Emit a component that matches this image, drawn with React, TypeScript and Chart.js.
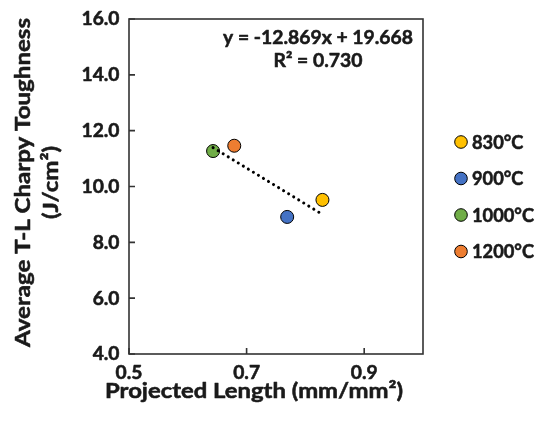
import React, { useEffect, useRef } from "react";
import { Chart, registerables } from "chart.js";

Chart.register(...registerables);

// ---- data ----
const temperatures = ["830°C", "900°C", "1000°C", "1200°C"];
const projectedLength = [0.829, 0.769, 0.643, 0.679];
const toughness = [9.52, 8.91, 11.27, 11.46];
const markerColors = ["#FFC000", "#4472C4", "#70AD47", "#ED7D31"];
const trendSlope = -12.869;
const trendIntercept = 19.668;
const rSquared = 0.73;
const xTickValues = [0.5, 0.7, 0.9];
const yTickValues = [4, 6, 8, 10, 12, 14, 16];
const xTitle = "Projected Length (mm/mm²)";
const yTitleLines = ["Average T-L Charpy Toughness", "(J/cm²)"];
const equationText = `y = ${trendSlope.toFixed(3)}x + ${trendIntercept.toFixed(3)}`;
const r2Text = `R² = ${rSquared.toFixed(3)}`;

const FONT = "Lato, 'Open Sans', sans-serif";
const CAP = 0.7165;
const TEXT = "#1a1a1a";

function setFont(ctx: CanvasRenderingContext2D, cap: number) {
  ctx.font = `bold ${cap / CAP}px ${FONT}`;
}
function squeeze(ctx: CanvasRenderingContext2D, sample: string, width: number) {
  return width / ctx.measureText(sample).width;
}
function drawText(ctx: CanvasRenderingContext2D, text: string, x: number, y: number, sx: number, align: CanvasTextAlign) {
  ctx.save();
  ctx.translate(x, y);
  ctx.scale(sx, 1);
  ctx.textAlign = align;
  ctx.textBaseline = "alphabetic";
  ctx.strokeStyle = TEXT;
  ctx.lineWidth = 0.55;
  ctx.lineJoin = "round";
  ctx.fillText(text, 0, 0);
  ctx.strokeText(text, 0, 0);
  ctx.restore();
}

const overlay = {
  id: "overlay",
  afterDatasetsDraw(chart: any) {
    const { ctx, chartArea } = chart;
    const xs = chart.scales.x;
    const ys = chart.scales.y;
    ctx.save();
    ctx.strokeStyle = "#333333";
    ctx.lineWidth = 1.6;
    ctx.strokeRect(chartArea.left, chartArea.top, chartArea.right - chartArea.left, chartArea.bottom - chartArea.top);
    ctx.beginPath();
    yTickValues.forEach((v) => {
      const y = ys.getPixelForValue(v);
      ctx.moveTo(chartArea.left, y);
      ctx.lineTo(chartArea.left + 6, y);
    });
    xTickValues.forEach((v) => {
      const x = xs.getPixelForValue(v);
      ctx.moveTo(x, chartArea.bottom);
      ctx.lineTo(x, chartArea.bottom - 6);
    });
    ctx.stroke();
    ctx.restore();
  },
  afterDraw(chart: any) {
    const { ctx, chartArea } = chart;
    const xs = chart.scales.x;
    const ys = chart.scales.y;
    ctx.save();
    ctx.fillStyle = TEXT;

    // tick labels
    const tickCap = 12.9;
    setFont(ctx, tickCap);
    const tsx = squeeze(ctx, "16.0", 38);
    yTickValues.forEach((v) => {
      drawText(ctx, v.toFixed(1), chartArea.left - 9.5, ys.getPixelForValue(v) + tickCap / 2, tsx, "right");
    });
    xTickValues.forEach((v) => {
      drawText(ctx, v.toFixed(1), xs.getPixelForValue(v), chartArea.bottom + 19 + tickCap / 2, tsx, "center");
    });

    // x title
    const titleCap = 15.5;
    setFont(ctx, titleCap);
    drawText(ctx, xTitle, 254, 398, squeeze(ctx, xTitle, 298), "center");

    // y title (rotated)
    ctx.save();
    ctx.translate(0, 182.5);
    ctx.rotate(-Math.PI / 2);
    setFont(ctx, titleCap);
    const ysx = squeeze(ctx, yTitleLines[0], 329);
    drawText(ctx, yTitleLines[0], 0, 29.5, ysx, "center");
    drawText(ctx, yTitleLines[1], 0, 58, ysx, "center");
    ctx.restore();

    // equation annotation
    const annCap = 13.5;
    setFont(ctx, annCap);
    const asx = squeeze(ctx, equationText, 190);
    drawText(ctx, equationText, 318, 37.5 + annCap / 2, asx, "center");
    drawText(ctx, r2Text, 318, 60 + annCap / 2, asx, "center");

    // legend
    const legendY = [142, 178.5, 215, 251.5];
    const legCap = 13;
    setFont(ctx, legCap);
    const lsx = squeeze(ctx, temperatures[2], 62);
    temperatures.forEach((t, i) => {
      const y = legendY[i];
      ctx.beginPath();
      ctx.arc(461, y, 6.3, 0, Math.PI * 2);
      ctx.fillStyle = markerColors[i];
      ctx.fill();
      ctx.lineWidth = 1;
      ctx.strokeStyle = "#000";
      ctx.stroke();
      ctx.fillStyle = TEXT;
      drawText(ctx, t, 472, y + legCap / 2, lsx, "left");
    });
    ctx.restore();
  },
};

export default function App() {
  const ref = useRef<HTMLCanvasElement>(null);
  useEffect(() => {
    const trendX = [Math.min(...projectedLength), Math.max(...projectedLength)];
    const datasets: any[] = [
      {
        label: "Linear trend",
        data: trendX.map((x) => ({ x, y: trendSlope * x + trendIntercept })),
        showLine: true,
        borderColor: "#000",
        borderWidth: 3,
        borderDash: [0.1, 5.8],
        borderCapStyle: "round",
        pointRadius: 0,
        order: 0,
      },
      ...temperatures.map((t, i) => ({
        label: t,
        data: [{ x: projectedLength[i], y: toughness[i] }],
        backgroundColor: markerColors[i],
        borderColor: "#000",
        borderWidth: 1,
        pointRadius: 6.5,
        order: 1,
      })),
    ];
    const chart = new Chart(ref.current!, {
      type: "scatter",
      data: { datasets },
      options: {
        animation: false,
        responsive: false,
        layout: { padding: { top: 19, right: 116, left: 0, bottom: 0 } },
        plugins: { legend: { display: false }, tooltip: { enabled: false } },
        scales: {
          x: {
            type: "linear",
            min: 0.5,
            max: 1.0,
            grid: { display: false, drawTicks: false },
            border: { display: false },
            afterBuildTicks: (s: any) => {
              s.ticks = xTickValues.map((v) => ({ value: v }));
            },
            afterFit: (s: any) => {
              s.height = 69;
            },
            ticks: { display: false },
          },
          y: {
            type: "linear",
            min: 4,
            max: 16,
            grid: { display: false, drawTicks: false },
            border: { display: false },
            afterBuildTicks: (s: any) => {
              s.ticks = yTickValues.map((v) => ({ value: v }));
            },
            afterFit: (s: any) => {
              s.width = 129;
            },
            ticks: { display: false },
          },
        },
      },
      plugins: [overlay],
    });
    return () => chart.destroy();
  }, []);
  return (
    <div style={{ position: "absolute", left: 0, top: 0, width: 539, height: 423, background: "#fff" }}>
      <canvas ref={ref} width={539} height={423} style={{ display: "block" }} />
    </div>
  );
}
